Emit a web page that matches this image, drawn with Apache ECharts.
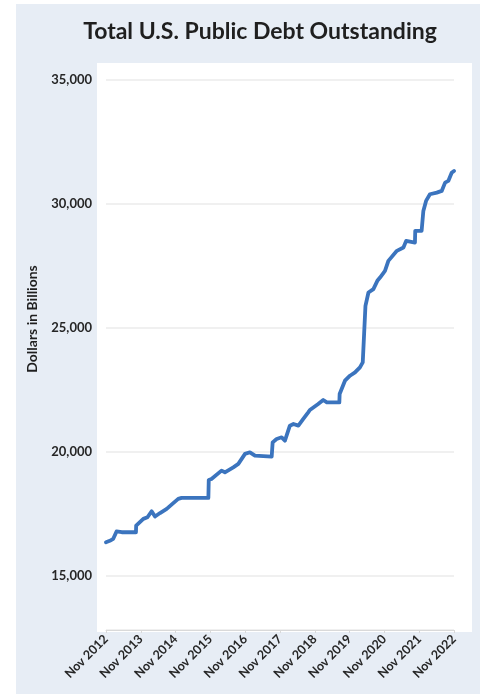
<!DOCTYPE html>
<html>
<head>
<meta charset="utf-8">
<script src="https://cdn.jsdelivr.net/npm/echarts@6/dist/echarts.min.js"></script>
<style>
html,body{margin:0;padding:0;background:#fff;}
#chart{width:485px;height:694px;}
</style>
</head>
<body>
<div id="chart"></div>
<script>
// ---- Data ----
const titleText = 'Total U.S. Public Debt Outstanding';
const yAxisTitle = 'Dollars in Billions';
const xTickLabels = ['Nov 2012','Nov 2013','Nov 2014','Nov 2015','Nov 2016','Nov 2017','Nov 2018','Nov 2019','Nov 2020','Nov 2021','Nov 2022'];
const yTickValues = [15000, 20000, 25000, 30000, 35000];

const dates = [
  '2012-11-01','2012-12-10','2013-01-16','2013-02-20','2013-03-09','2013-04-14','2013-09-11','2013-09-13',
  '2013-11-27','2014-01-10','2014-02-23','2014-03-28','2014-05-20','2014-07-29','2014-09-25','2014-11-28','2015-01-03',
  '2015-10-10','2015-10-14','2015-11-12','2016-02-26','2016-04-01','2016-06-28','2016-08-20','2016-10-29',
  '2016-12-20','2017-02-12','2017-08-05','2017-08-15','2017-09-26','2017-11-18','2017-12-22',
  '2018-02-13','2018-03-20','2018-05-11','2018-07-02','2018-08-23','2018-09-10','2018-12-06','2019-01-28',
  '2019-03-06','2019-07-15','2019-07-18','2019-09-13','2019-11-05','2019-12-27','2020-02-18','2020-03-17',
  '2020-03-31','2020-04-15','2020-05-16','2020-07-07','2020-08-18','2020-09-16','2020-11-07','2020-12-12',
  '2021-03-10','2021-05-18','2021-06-16','2021-06-19','2021-09-17','2021-09-20','2021-11-26','2021-12-14',
  '2022-01-12','2022-02-22','2022-05-03','2022-06-24','2022-07-29','2022-09-02','2022-10-07','2022-11-01'
];
const debt = [
  16343,16400,16480,16780,16842,16746,16746,17016,
  17286,17350,17593,17379,17520,17690,17880,18092,18133,
  18133,18858,18898,19234,19166,19367,19504,19907,
  19972,19838,19798,20375,20512,20578,20443,
  21048,21116,21048,21318,21586,21681,21923,22084,
  21987,21987,22326,22862,23064,23198,23400,23602,
  24745,25886,26423,26560,26894,27028,27298,27700,
  28104,28237,28507,28440,28440,28910,28910,29717,
  30120,30389,30456,30523,30859,30927,31260,31330
];

// months since Nov 2012
function monthsFromStart(d){
  const p = d.split('-').map(Number);
  return (p[0]-2012)*12 + (p[1]-1) + (p[2]-1)/30 - 10;
}
const seriesData = dates.map((d,i)=>[monthsFromStart(d), debt[i]]);

const chart = echarts.init(document.getElementById('chart'), null, {renderer:'canvas'});
const labelFont = 'Lato, "Open Sans", sans-serif';
chart.setOption({
  backgroundColor: '#ffffff',
  animation: false,
  graphic: [
    {type:'rect', z:-10, shape:{x:16, y:4, width:464, height:690}, style:{fill:'#E7EDF5'}},
    {type:'rect', z:-9, shape:{x:97, y:63, width:375, height:569}, style:{fill:'#ffffff'}},
    {type:'text', x:260, y:20, style:{text:titleText, fill:'#1f1f1f', font:'bold 23px '+labelFont, textAlign:'center'}},
    {type:'text', x:25, y:319, rotation:Math.PI/2, style:{text:yAxisTitle, fill:'#1f1f1f', font:'bold 14px '+labelFont, textAlign:'center', textVerticalAlign:'top'}}
  ],
  grid: {left:106, right:31, top:80, bottom:64, containLabel:false},
  xAxis: {
    type:'value', min:0, max:120, interval:12,
    axisLine:{show:true, lineStyle:{color:'#d9d9d9', width:1}},
    axisTick:{show:true, length:3, lineStyle:{color:'#d9d9d9'}},
    splitLine:{show:false},
    axisLabel:{
      rotate:45, margin:7, color:'#262626', fontSize:12.5, fontWeight:'bold', fontFamily:labelFont,
      formatter:(v)=> xTickLabels[Math.round(v/12)] || ''
    }
  },
  yAxis: {
    type:'value', min:12800, max:35000, splitNumber:5,
    axisLine:{show:false}, axisTick:{show:false},
    splitLine:{show:true, lineStyle:{color:'#ebebeb', width:1.5}},
    axisLabel:{
      showMinLabel:false, margin:14, color:'#262626', fontSize:13, fontWeight:'bold', fontFamily:labelFont,
      formatter:(v)=> yTickValues.indexOf(v) >= 0 ? v.toLocaleString('en-US') : ''
    }
  },
  series: [{
    type:'line', data:seriesData, showSymbol:false, symbol:'none',
    lineStyle:{color:'#3B74BE', width:3.8, join:'round', cap:'round'},
    z:3
  }]
});
</script>
</body>
</html>
